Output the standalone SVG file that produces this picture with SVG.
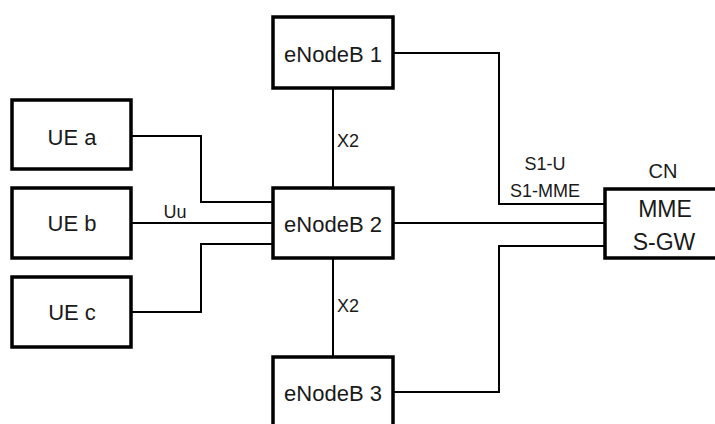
<svg xmlns="http://www.w3.org/2000/svg" width="715" height="424" viewBox="0 0 715 424">
<style>
.box{fill:#fff;stroke:#000;stroke-width:3.5}
.t{font-family:"Liberation Sans",Arial,sans-serif;font-size:22px;text-anchor:middle;fill:#1a1a1a}
.s{font-family:"Liberation Sans",Arial,sans-serif;font-size:18px;fill:#1a1a1a}
.c{fill:none;stroke:#000;stroke-width:2}
</style>
<rect width="715" height="424" fill="#fff"/>
<g id="connectors">
<polyline class="c" points="131,136 201,136 201,202 273,202"/>
<line class="c" x1="131" y1="223" x2="273" y2="223"/>
<polyline class="c" points="131,312 201,312 201,244 273,244"/>
<line class="c" x1="333" y1="88" x2="333" y2="188"/>
<line class="c" x1="333" y1="258" x2="333" y2="357"/>
<polyline class="c" points="393,53 499,53 499,204 605,204"/>
<line class="c" x1="393" y1="223" x2="605" y2="223"/>
<polyline class="c" points="393,392 499,392 499,246 605,246"/>
<text class="s" x="175" y="218" text-anchor="middle">Uu</text>
<text class="s" x="337" y="147">X2</text>
<text class="s" x="337" y="312">X2</text>
<text class="s" x="545" y="170" text-anchor="middle">S1-U</text>
<text class="s" x="545" y="197" text-anchor="middle">S1-MME</text>
</g>
<g id="ue-a"><rect class="box" x="12" y="100" width="119" height="69"/><text class="t" x="72" y="145">UE a</text></g>
<g id="ue-b"><rect class="box" x="12" y="188" width="119" height="70"/><text class="t" x="72" y="231">UE b</text></g>
<g id="ue-c"><rect class="box" x="12" y="277" width="119" height="70"/><text class="t" x="72" y="320">UE c</text></g>
<g id="enodeb1"><rect class="box" x="273" y="17" width="120" height="71"/><text class="t" x="333" y="62">eNodeB 1</text></g>
<g id="enodeb2"><rect class="box" x="273" y="188" width="120" height="70"/><text class="t" x="333" y="232">eNodeB 2</text></g>
<g id="enodeb3"><rect class="box" x="273" y="357" width="120" height="80"/><text class="t" x="333" y="401">eNodeB 3</text></g>
<g id="cn">
<text class="t" x="663" y="178" style="font-size:20px">CN</text>
<rect class="box" x="605" y="189" width="120" height="69"/>
<text class="t" x="665" y="217" style="font-size:23px">MME</text>
<text class="t" x="664" y="250" style="font-size:23px">S-GW</text>
</g>
</svg>
